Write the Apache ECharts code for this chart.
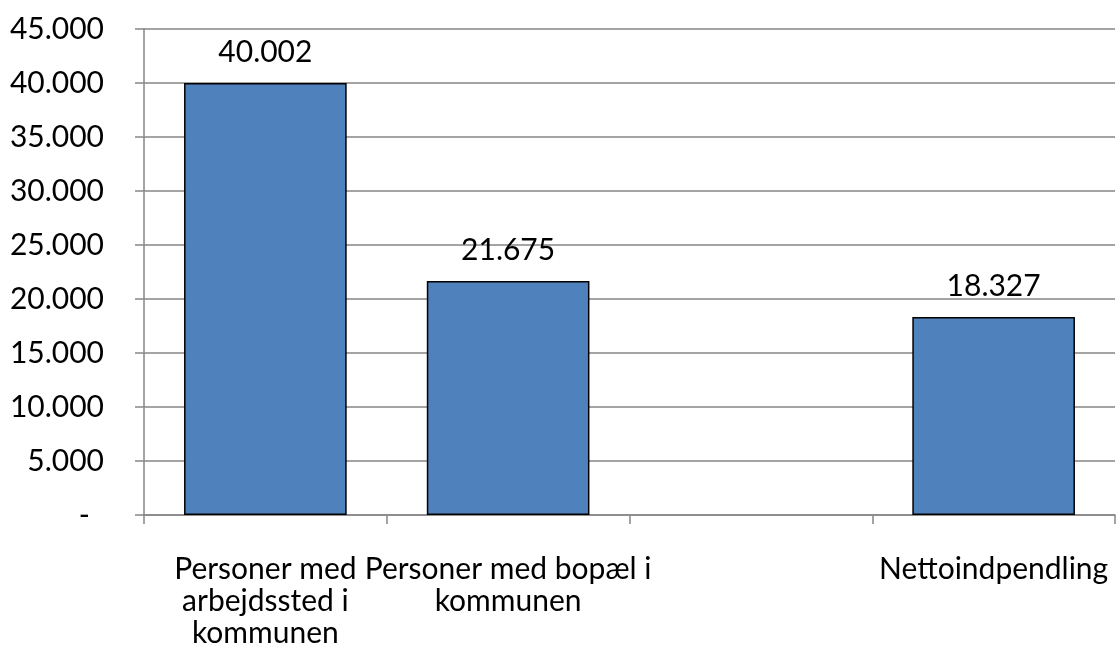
<!DOCTYPE html>
<html><head><meta charset="utf-8">
<script src="https://cdn.jsdelivr.net/npm/echarts@6/dist/echarts.min.js"></script>
<style>html,body{margin:0;padding:0;background:#fff}#c{width:1118px;height:659px}</style>
</head><body><div id="c"></div>
<script>
const categories = ['Personer med\narbejdssted i\nkommunen', 'Personer med bopæl i\nkommunen', '', 'Nettoindpendling'];
const values = [40002, 21675, null, 18327];
const yMin = 0, yMax = 45000, yStep = 5000;

const FONT = 'Lato';
const FS = 30;
function fmt(v) {
  if (v === 0) return '-';
  return String(Math.round(v)).replace(/\B(?=(\d{3})+(?!\d))/g, '.');
}

const chart = echarts.init(document.getElementById('c'), null, {renderer: 'canvas'});
chart.setOption({
  animation: false,
  backgroundColor: '#fff',
  grid: {left: 144, right: 3, top: 29, bottom: 144, containLabel: false},
  xAxis: {
    type: 'category',
    data: categories,
    boundaryGap: true,
    axisLine: {lineStyle: {color: '#868686', width: 1.5}},
    axisTick: {show: true, length: 9, interval: 0, lineStyle: {color: '#868686', width: 1.5}},
    axisLabel: {interval: 0, margin: 38, color: '#000', fontFamily: FONT, fontSize: FS, lineHeight: 32, align: 'center'},
    splitLine: {show: false}
  },
  yAxis: {
    type: 'value',
    min: yMin, max: yMax, interval: yStep,
    axisLine: {show: true, lineStyle: {color: '#868686', width: 1.5}},
    axisTick: {show: true, length: 9, lineStyle: {color: '#868686', width: 1.5}},
    splitLine: {show: true, lineStyle: {color: '#868686', width: 1.5}},
    axisLabel: {
      margin: 40, color: '#000', fontFamily: FONT, fontSize: FS,
      formatter: v => v === 0 ? '{d|-}' : fmt(v),
      rich: {d: {fontFamily: FONT, fontSize: FS, color: '#000', padding: [0, 14, 0, 0]}}
    }
  },
  series: [{
    type: 'bar',
    data: values,
    barWidth: '67%',
    itemStyle: {color: '#4F81BD', borderColor: '#000', borderWidth: 1.5},
    label: {show: true, position: 'top', distance: 16, color: '#000', fontFamily: FONT, fontSize: FS,
      formatter: p => fmt(p.value)}
  }]
});
</script></body></html>
